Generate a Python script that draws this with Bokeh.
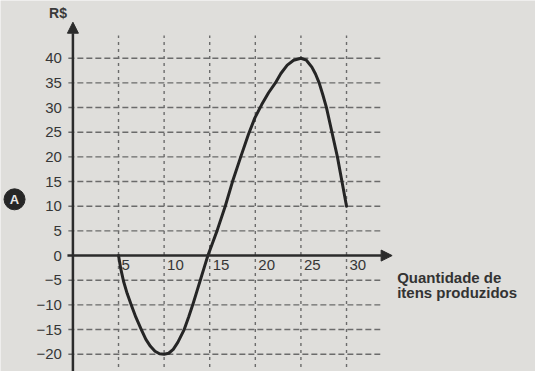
from bokeh.plotting import figure
from bokeh.models import Range1d, Arrow, NormalHead
from bokeh.core.properties import value
from bokeh.embed import file_html
from bokeh.resources import INLINE

# Profit curve (R$) against number of items produced
items = [5, 5.25, 5.55, 5.95, 6.4, 6.9, 7.5, 8.0, 8.5, 9.0, 9.5, 10, 10.5, 11.0,
         11.5, 12.2, 12.7, 13.2, 13.6, 14.0, 14.4, 14.8, 15.3, 15.8, 16.7, 17.5,
         18.4, 19.25, 19.95, 20.7, 21.45, 22.2, 22.8, 23.5, 24.2, 25, 25.6, 26.2,
         26.6, 27.0, 27.4, 27.8, 28.4, 29.0, 29.5, 30]
profit = [0, -2.7, -5.2, -7.7, -10, -12.5, -15, -17, -18.4, -19.4, -19.9, -20, -19.8, -19.0,
          -17.6, -15, -12.4, -9.6, -7.2, -4.8, -2.4, 0, 2.5, 5, 10, 15,
          20, 24.6, 27.9, 30.6, 33, 35, 36.9, 38.6, 39.6, 40, 39.6, 38.2,
          36.8, 35, 32.6, 30, 25, 20, 15, 10]

x_ticks = [5, 10, 15, 20, 25, 30]
y_ticks = [40, 35, 30, 25, 20, 15, 10, 5, 0, -5, -10, -15, -20]
y_tick_labels = ["40", "35", "30", "25", "20", "15", "10", "5", "0",
                 "\u22125", "\u221210", "\u221215", "\u221220"]
x_tick_labels = ["5", "10", "15", "20", "25", "30"]

paper = "#dfdedb"
ink = "#2b2b2b"
grid_ink = "#6b6b6b"
font = value("Liberation Sans")

p = figure(width=535, height=371, output_backend="svg", toolbar_location=None,
           x_range=Range1d(-7.94, 50.72), y_range=Range1d(-23.5, 51.7),
           min_border=0, background_fill_color=paper, border_fill_color=paper,
           outline_line_color=None)
p.axis.visible = False
p.grid.visible = False

# dashed grid
h_ticks = [t for t in y_ticks if t != 0]
p.segment(x0=[-0.5] * len(h_ticks), y0=h_ticks, x1=[33.7] * len(h_ticks), y1=h_ticks,
          line_color=grid_ink, line_width=1.4, line_dash="6 3")
p.segment(x0=x_ticks, y0=[-24] * len(x_ticks), x1=x_ticks, y1=[44.6] * len(x_ticks),
          line_color=grid_ink, line_width=1.4, line_dash="3 4")

# axes with arrow heads
p.add_layout(Arrow(x_start=-0.6, y_start=0, x_end=35, y_end=0, line_color=ink, line_width=2.5,
                   end=NormalHead(size=11, fill_color=ink, line_color=ink)))
p.add_layout(Arrow(x_start=0, y_start=-24, x_end=0, y_end=47.3, line_color=ink, line_width=2.5,
                   end=NormalHead(size=11, fill_color=ink, line_color=ink)))

# curve
p.line(items, profit, line_color="#252525", line_width=3, line_join="round", line_cap="round")

# tick labels
p.text(x=[0] * len(y_ticks), y=y_ticks, text=y_tick_labels, x_offset=-11,
       text_align="right", text_baseline="middle", text_font=font,
       text_font_size="15px", text_color="#363636")
p.text(x=x_ticks, y=[0] * len(x_ticks), text=x_tick_labels, x_offset=3, y_offset=4,
       text_align="left", text_baseline="top", text_font=font,
       text_font_size="15px", text_color="#363636")

# axis names
p.text(x=[0], y=[47.3], text=["R$"], x_offset=-6, y_offset=-1, text_align="right",
       text_baseline="bottom", text_font=font, text_font_style="bold",
       text_font_size="14px", text_color="#3a3a3a")
p.text(x=[35, 35], y=[0, 0], text=["Quantidade de", "itens produzidos"],
       x_offset=5, y_offset=[22, 37], text_align="left", text_baseline="alphabetic",
       text_font=font, text_font_style="bold", text_font_size="15px", text_color="#333333")

# option badge
p.scatter(x=[-6.4], y=[11.4], size=21, marker="circle", fill_color="#262626", line_color="#262626")
p.text(x=[-6.4], y=[11.4], text=["A"], text_align="center", text_baseline="middle",
       text_font=font, text_font_style="bold", text_font_size="13px", text_color="#e8e8e8")

open("out.html", "w").write(file_html(p, INLINE))
